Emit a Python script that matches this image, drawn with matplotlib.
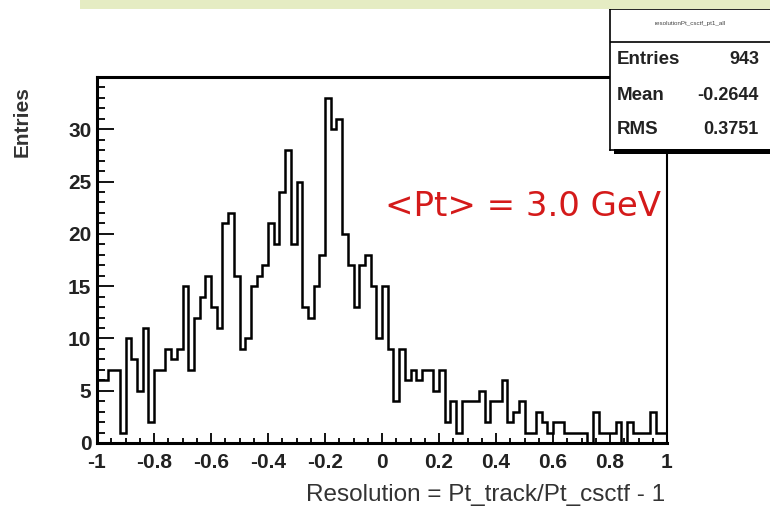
import numpy as np
import matplotlib
matplotlib.use("Agg")
import matplotlib.pyplot as plt
from matplotlib.patches import Rectangle
from matplotlib.ticker import MultipleLocator, FixedLocator

plt.rcParams['font.family'] = ['Liberation Sans', 'DejaVu Sans']

# ---- data -------------------------------------------------------------
x_min, x_max, n_bins = -1.0, 1.0, 100
counts = [6, 6, 7, 7, 1, 10, 8, 5, 11, 2,
          7, 7, 9, 8, 9, 15, 7, 12, 14, 16,
          13, 11, 21, 22, 16, 9, 10, 15, 16, 17,
          21, 19, 24, 28, 19, 25, 13, 12, 15, 18,
          33, 30, 31, 20, 17, 13, 17, 18, 15, 10,
          15, 9, 4, 9, 6, 7, 6, 7, 7, 5,
          7, 2, 4, 1, 4, 4, 4, 5, 2, 4,
          4, 6, 2, 3, 4, 1, 1, 3, 2, 1,
          2, 2, 1, 1, 1, 1, 0, 3, 1, 1,
          1, 2, 0, 2, 1, 1, 1, 3, 1, 1]
x_ticks = [-1, -0.8, -0.6, -0.4, -0.2, 0, 0.2, 0.4, 0.6, 0.8, 1]
x_tick_labels = ["-1", "-0.8", "-0.6", "-0.4", "-0.2", "0", "0.2", "0.4", "0.6", "0.8", "1"]
y_ticks = [0, 5, 10, 15, 20, 25, 30]
stat_labels = ["Entries", "Mean", "RMS"]
stat_values = ["943", "-0.2644", "0.3751"]
hist_name = "resolutionPt_csctf_pt1_all"
x_title = "Resolution = Pt_track/Pt_csctf - 1"
y_title = "Entries"
note = "<Pt> = 3.0 GeV"

# ---- figure -----------------------------------------------------------
W, H = 770, 508
fig = plt.figure(figsize=(W / 100, H / 100), dpi=100)
fig.patch.set_facecolor('white')

def fx(px):
    return px / W

def fy(py):
    return (H - py) / H

L, R, T, B = 97, 667, 77, 443
ax = fig.add_axes([fx(L), fy(B), fx(R) - fx(L), fy(T) - fy(B)])
edges = np.linspace(x_min, x_max, n_bins + 1)
ax.stairs(counts, edges, baseline=0, color='black', lw=1.8)
ax.set_xlim(x_min, x_max)
ax.set_ylim(0, 35)

ax.xaxis.set_major_locator(FixedLocator(x_ticks))
ax.set_xticklabels(x_tick_labels)
ax.xaxis.set_minor_locator(MultipleLocator(0.05))
ax.yaxis.set_major_locator(FixedLocator(y_ticks))
ax.yaxis.set_minor_locator(MultipleLocator(1))

ax.tick_params(axis='both', which='both', direction='in', top=False, right=False,
               width=1.3, color='black')
ax.tick_params(axis='y', which='major', length=12, pad=4)
ax.tick_params(axis='y', which='minor', length=6)
ax.tick_params(axis='x', which='major', length=7, pad=7)
ax.tick_params(axis='x', which='minor', length=3.5)
for lab in ax.get_xticklabels() + ax.get_yticklabels():
    lab.set_fontsize(15)
    lab.set_fontweight('bold')
    lab.set_color('#222222')

for side in ['left', 'bottom', 'top']:
    ax.spines[side].set_linewidth(2.2)
ax.spines['right'].set_linewidth(1.5)

# axis titles
fig.text(fx(R - 2), fy(495), x_title, ha='right', va='center', fontsize=17.5, color='#333333')
fig.text(fx(22), fy(122), y_title, ha='center', va='center', rotation=90,
         fontsize=15, fontweight='bold', color='#333333')

# annotation
fig.text(fx(385), fy(206), note, ha='left', va='center', fontsize=24.5, color='#d41a1a',
         family='DejaVu Sans')

# top band
fig.add_artist(Rectangle((fx(80), fy(9)), 1 - fx(80), fy(0) - fy(9),
                         transform=fig.transFigure, facecolor='#e5ecc3',
                         edgecolor='none', zorder=5))

# stat box shadow
fig.add_artist(Rectangle((fx(614), fy(154)), 1 - fx(614), fy(149) - fy(154),
                         transform=fig.transFigure, facecolor='black',
                         edgecolor='none', zorder=4))

# stat box
bx = fig.add_axes([fx(610), fy(150), 1.02 - fx(610), fy(9) - fy(150)])
bx.set_xlim(0, 1)
bx.set_ylim(150, 9)
bx.set_xticks([])
bx.set_yticks([])
bx.set_facecolor('white')
for s in bx.spines.values():
    s.set_linewidth(1.2)
bx.axhline(41.5, color='black', lw=1.2)
box_w = 1.02 * W - 610
bx.text((690 - 610) / box_w, 23, hist_name, ha='center', va='center', fontsize=4.5,
        color='#444444')
row_y = [59, 95, 130]
for lab, val, yy in zip(stat_labels, stat_values, row_y):
    bx.text((617 - 610) / box_w, yy, lab, ha='left', va='center', fontsize=13.5,
            fontweight='bold', color='#222222')
    bx.text((759 - 610) / box_w, yy, val, ha='right', va='center', fontsize=13,
            fontweight='bold', color='#222222')

fig.savefig('out.png', dpi=100)
